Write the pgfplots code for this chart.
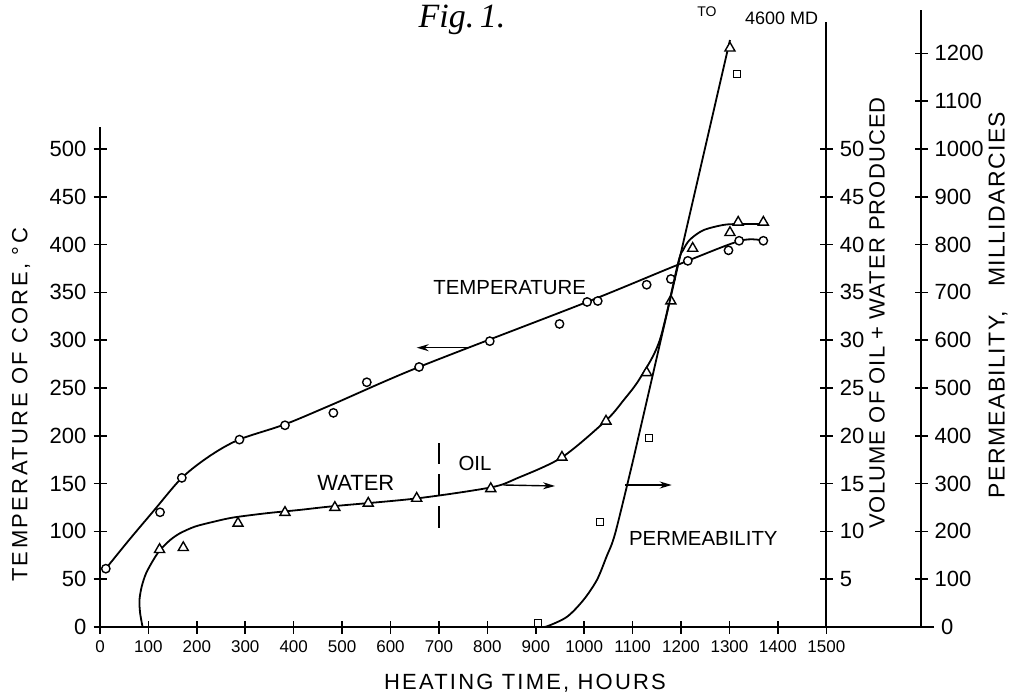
\documentclass[border=0pt]{standalone}
\usepackage{fontspec}
\setmainfont{Liberation Sans}
\newfontfamily\figfont{Liberation Serif}
\usepackage{pgfplots}
\pgfplotsset{compat=1.18}
\usetikzlibrary{arrows.meta}
\newcommand{\fs}[1]{\fontsize{#1}{#1}\selectfont}

\pgfplotsset{
  base/.style={
    scale only axis,
    at={(50pt,-313.5pt)}, anchor=south west,
    xmin=0, ymin=0,
    tick align=inside,
    major tick length=6.5pt,
    every tick/.style={line width=0.8pt, black},
    /pgf/number format/assume math mode=true,
    /pgf/number format/1000 sep={},
  },
  noarrows/.style={
    axis line style={-, line width=0.9pt},
    every inner x axis line/.append style={-},
    every inner y axis line/.append style={-},
    every outer x axis line/.append style={-},
    every outer y axis line/.append style={-},
  },
  curve/.style={black, line width=0.9pt, no markers, smooth, tension=0.5},
  pts/.style={only marks, black, mark options={line width=0.7pt, fill=white, draw=black, solid}},
}

\begin{document}
\begin{tikzpicture}
\path[use as bounding box] (0,0) rectangle (507.5pt,-347pt);

% ---------------- Temperature axis (left) ----------------
\begin{axis}[base, width=410.5pt, height=250pt, xmax=1695.6, ymax=523,
  axis x line=bottom, axis y line=left, noarrows,
  xtick={0,100,...,1500}, ytick={0,50,...,500},
  xticklabel style={font=\fs{8.5}},
  yticklabel style={font=\fs{11}}]
\addplot[curve] coordinates {
 (12,61) (60,91) (110,121) (169,156) (227,179) (287,196)
 (382,212) (481,233) (659,272) (1006,340) (1194,379) (1322,404) (1370,404)};
\addplot[pts, mark=*, mark size=2.1pt] coordinates {
 (12,61) (124,120) (169,156) (288,196) (382,211) (482,224) (551,256)
 (659,272) (805,299) (949,317) (1006,340) (1028,341) (1129,358)
 (1179,364) (1214,383) (1298,394) (1320,404) (1370,404)};
\draw[dash pattern=on 11pt off 5pt, line width=0.8pt] (axis cs:700,104) -- (axis cs:700,192);
\end{axis}

% ---------------- Volume axis (middle) ----------------
\begin{axis}[base, width=363.15pt, height=302.5pt, xmax=1500, ymax=63.28,
  hide x axis, axis y line=right, noarrows,
  ytick={5,10,...,50},
  yticklabel style={font=\fs{11}}]
\addplot[curve] coordinates {
 (88,0) (83,1.4) (81.5,2.8) (86,4.2) (95,5.6) (110,7.0) (124,8.05)
 (145,9.1) (165,9.8) (196,10.5) (234,11.0) (275,11.45) (344,11.9)
 (413,12.25) (485,12.65) (654,13.45) (807,14.6) (861,15.55) (954,17.75)
 (1045,21.6) (1081,23.7) (1115,26.0) (1156,30.0) (1194,38.1) (1204,39.4)
 (1218,40.5) (1246,41.5) (1287,42.05) (1318,42.15) (1370,42.15)};
\addplot[pts, mark=triangle*, mark size=2.9pt] coordinates {
 (123,8.1) (172,8.3) (285,10.85) (382,11.98) (485,12.5) (554,12.94)
 (654,13.46) (807,14.47) (954,17.75) (1045,21.53) (1129,26.6)
 (1179,34.1) (1224,39.6) (1301,41.25) (1318,42.33) (1370,42.33)};
\end{axis}

% ---------------- Permeability axis (right) ----------------
\begin{axis}[base, width=410.5pt, height=308.5pt, xmax=1695.6, ymax=1290.8,
  hide x axis, axis y line=right, noarrows,
  ytick={100,200,...,1200},
  extra y ticks={0}, extra y tick style={tick align=outside},
  yticklabel style={font=\fs{11}}]
\addplot[curve] coordinates {
 (905,0) (922,1) (964,21) (998,56) (1026,98) (1046,147) (1064,196) (1101,349)};
\addplot[black, line width=0.9pt, no markers] coordinates {(1101,349) (1301,1228)};
\addplot[pts, mark=square*, mark size=1.75pt] coordinates {
 (905,8) (1033,220) (1134,396) (1315,1157)};
\addplot[pts, mark=triangle*, mark size=2.9pt] coordinates {(1301,1211)};
\end{axis}

% ---------------- Annotations (pixel grid) ----------------
\begin{scope}[x=0.5pt, y=-0.5pt]
\draw[line width=0.7pt, -{Stealth[length=6pt,width=3.5pt]}] (470,347.7) -- (416.7,347.7);
\draw[line width=0.7pt, -{Stealth[length=6pt,width=3.5pt]}] (503.3,485) -- (555,486);
\draw[line width=0.7pt, -{Stealth[length=6pt,width=3.5pt]}] (625,485) -- (671.7,485);

\node[font=\fs{10.2}] at (509.7,287.5) {TEMPERATURE};
\node[font=\fs{11}] at (355.8,482.5) {WATER};
\node[font=\fs{10.2}] at (475,463.3) {OIL};
\node[font=\fs{10.2}] at (703.3,538.3) {PERMEABILITY};
\node[font=\fs{7}] at (707,12) {TO};
\node[font=\fs{9}, anchor=west] at (738,18) {4600 MD};

\node[font=\fs{11}\addfontfeature{LetterSpace=10}] at (525,683) {HEATING TIME, HOURS};
\node[rotate=90, font=\fs{11}\addfontfeature{LetterSpace=11}] at (21,405) {TEMPERATURE OF CORE, °C};
\node[rotate=90, font=\fs{11}\addfontfeature{LetterSpace=5}] at (877,313) {VOLUME OF OIL + WATER PRODUCED};
\node[rotate=90, font=\fs{11.5}\addfontfeature{LetterSpace=6}] at (998,305) {PERMEABILITY,\hspace{12pt}MILLIDARCIES};

\node[font=\figfont\itshape\fs{17}, anchor=base] at (462,28) {Fig.\,1.};
\end{scope}
\end{tikzpicture}
\end{document}
